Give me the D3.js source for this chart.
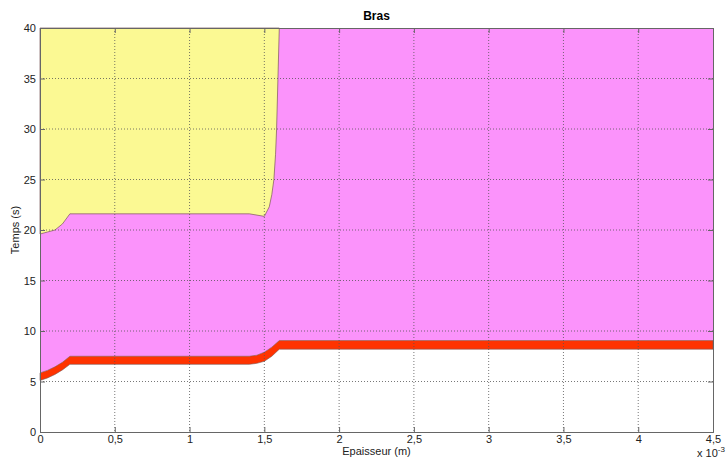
<!DOCTYPE html>
<html>
<head>
<meta charset="utf-8">
<script src="https://cdn.jsdelivr.net/npm/d3@7"></script>
<style>
  body { margin: 0; background: #fff; }
  text { font-family: "Liberation Sans", Arial, sans-serif; }
</style>
</head>
<body>
<div id="chart"></div>
<script>
// x values in units of 1e-3 m
const xTicks = [0, 0.5, 1, 1.5, 2, 2.5, 3, 3.5, 4, 4.5];
const yTicks = [0, 5, 10, 15, 20, 25, 30, 35, 40];

// red band (white / red / magenta boundaries)
const bandX = [0, 0.05, 0.1, 0.15, 0.2, 1.4, 1.45, 1.5, 1.55, 1.6, 4.5];
const redBottom = [5.1, 5.35, 5.7, 6.15, 6.7, 6.7, 6.8, 7.0, 7.5, 8.2, 8.2];
const redTop = [5.85, 6.1, 6.45, 6.9, 7.5, 7.5, 7.6, 7.9, 8.4, 9.05, 9.05];

// yellow region: lower edge, then right edge going up
const yelBottomX = [0, 0.05, 0.1, 0.15, 0.2, 1.4, 1.5];
const yelBottomY = [19.6, 19.8, 20.0, 20.6, 21.6, 21.6, 21.35];
const yelRightX = [1.5, 1.533, 1.55, 1.564, 1.575, 1.582, 1.591, 1.6];
const yelRightY = [21.35, 22.3, 23.5, 25, 27.5, 30, 35, 40];

const W = 728, H = 459;
const margin = { top: 28, right: 15, bottom: 27, left: 40 },
  width = W - margin.left - margin.right,
  height = H - margin.top - margin.bottom;

const svg = d3
  .select("#chart")
  .append("svg")
  .attr("width", W)
  .attr("height", H);

const g = svg
  .append("g")
  .attr("transform", `translate(${margin.left}, ${margin.top})`);

const x = d3.scaleLinear().domain([0, 4.5]).range([0, width]);
const y = d3.scaleLinear().domain([0, 40]).range([height, 0]);

const line = d3.line().x((d) => x(d[0])).y((d) => y(d[1]));
const edge = "#7a5858";

// magenta: from red top up to 40
const magenta = bandX.map((v, i) => [v, redTop[i]]);
magenta.push([4.5, 40], [0, 40]);
g.append("path")
  .attr("d", line(magenta) + "Z")
  .style("fill", "#fb93fb")
  .style("stroke", "none");

// red band
const red = bandX.map((v, i) => [v, redBottom[i]]);
for (let i = bandX.length - 1; i >= 0; i--) red.push([bandX[i], redTop[i]]);
g.append("path")
  .attr("d", line(red) + "Z")
  .style("fill", "#ff3300")
  .style("stroke", edge)
  .style("stroke-width", 0.6);

// yellow
const yellow = [[0, 40]];
yelBottomX.forEach((v, i) => yellow.push([v, yelBottomY[i]]));
yelRightX.forEach((v, i) => yellow.push([v, yelRightY[i]]));
g.append("path")
  .attr("d", line(yellow) + "Z")
  .style("fill", "#fbf993")
  .style("stroke", edge)
  .style("stroke-width", 0.7);

// grid
g.selectAll(".vgrid")
  .data(xTicks.slice(1, -1))
  .join("line")
  .attr("x1", (d) => x(d))
  .attr("x2", (d) => x(d))
  .attr("y1", 0)
  .attr("y2", height)
  .style("stroke", "#555")
  .style("stroke-width", 0.8)
  .style("stroke-dasharray", "1,2");

g.selectAll(".hgrid")
  .data(yTicks.slice(1, -1))
  .join("line")
  .attr("x1", 0)
  .attr("x2", width)
  .attr("y1", (d) => y(d))
  .attr("y2", (d) => y(d))
  .style("stroke", "#555")
  .style("stroke-width", 0.8)
  .style("stroke-dasharray", "1,2");

// axes (ticks inward, like matlab)
const fmt = (d) => String(d).replace(".", ",");
g.append("g")
  .attr("transform", `translate(0, ${height})`)
  .call(d3.axisBottom(x).tickValues(xTicks).tickSize(-5).tickPadding(3).tickFormat(fmt));
g.append("g")
  .call(d3.axisLeft(y).tickValues(yTicks).tickSize(-5).tickPadding(4).tickFormat(fmt));
g.append("g")
  .call(d3.axisTop(x).tickValues(xTicks).tickSize(-5).tickFormat(""));
g.append("g")
  .attr("transform", `translate(${width}, 0)`)
  .call(d3.axisRight(y).tickValues(yTicks).tickSize(-5).tickFormat(""));

g.selectAll(".domain, .tick line").style("stroke", "#666");
g.selectAll(".tick text").style("font-size", "11px").style("fill", "#222");

// labels
svg.append("text")
  .attr("x", margin.left + width / 2)
  .attr("y", 20)
  .attr("text-anchor", "middle")
  .style("font-size", "12px")
  .style("font-weight", "bold")
  .text("Bras");

svg.append("text")
  .attr("x", margin.left + width / 2)
  .attr("y", 455)
  .attr("text-anchor", "middle")
  .style("font-size", "11px")
  .style("fill", "#222")
  .text("Epaisseur (m)");

svg.append("text")
  .attr("transform", `translate(19, ${margin.top + height / 2}) rotate(-90)`)
  .attr("text-anchor", "middle")
  .style("font-size", "11px")
  .style("fill", "#222")
  .text("Temps (s)");

const mult = svg.append("text")
  .attr("x", 697)
  .attr("y", 457)
  .style("font-size", "11px")
  .style("fill", "#222")
  .text("x 10");
mult.append("tspan")
  .attr("dy", -5)
  .style("font-size", "8px")
  .text("-3");
</script>
</body>
</html>
